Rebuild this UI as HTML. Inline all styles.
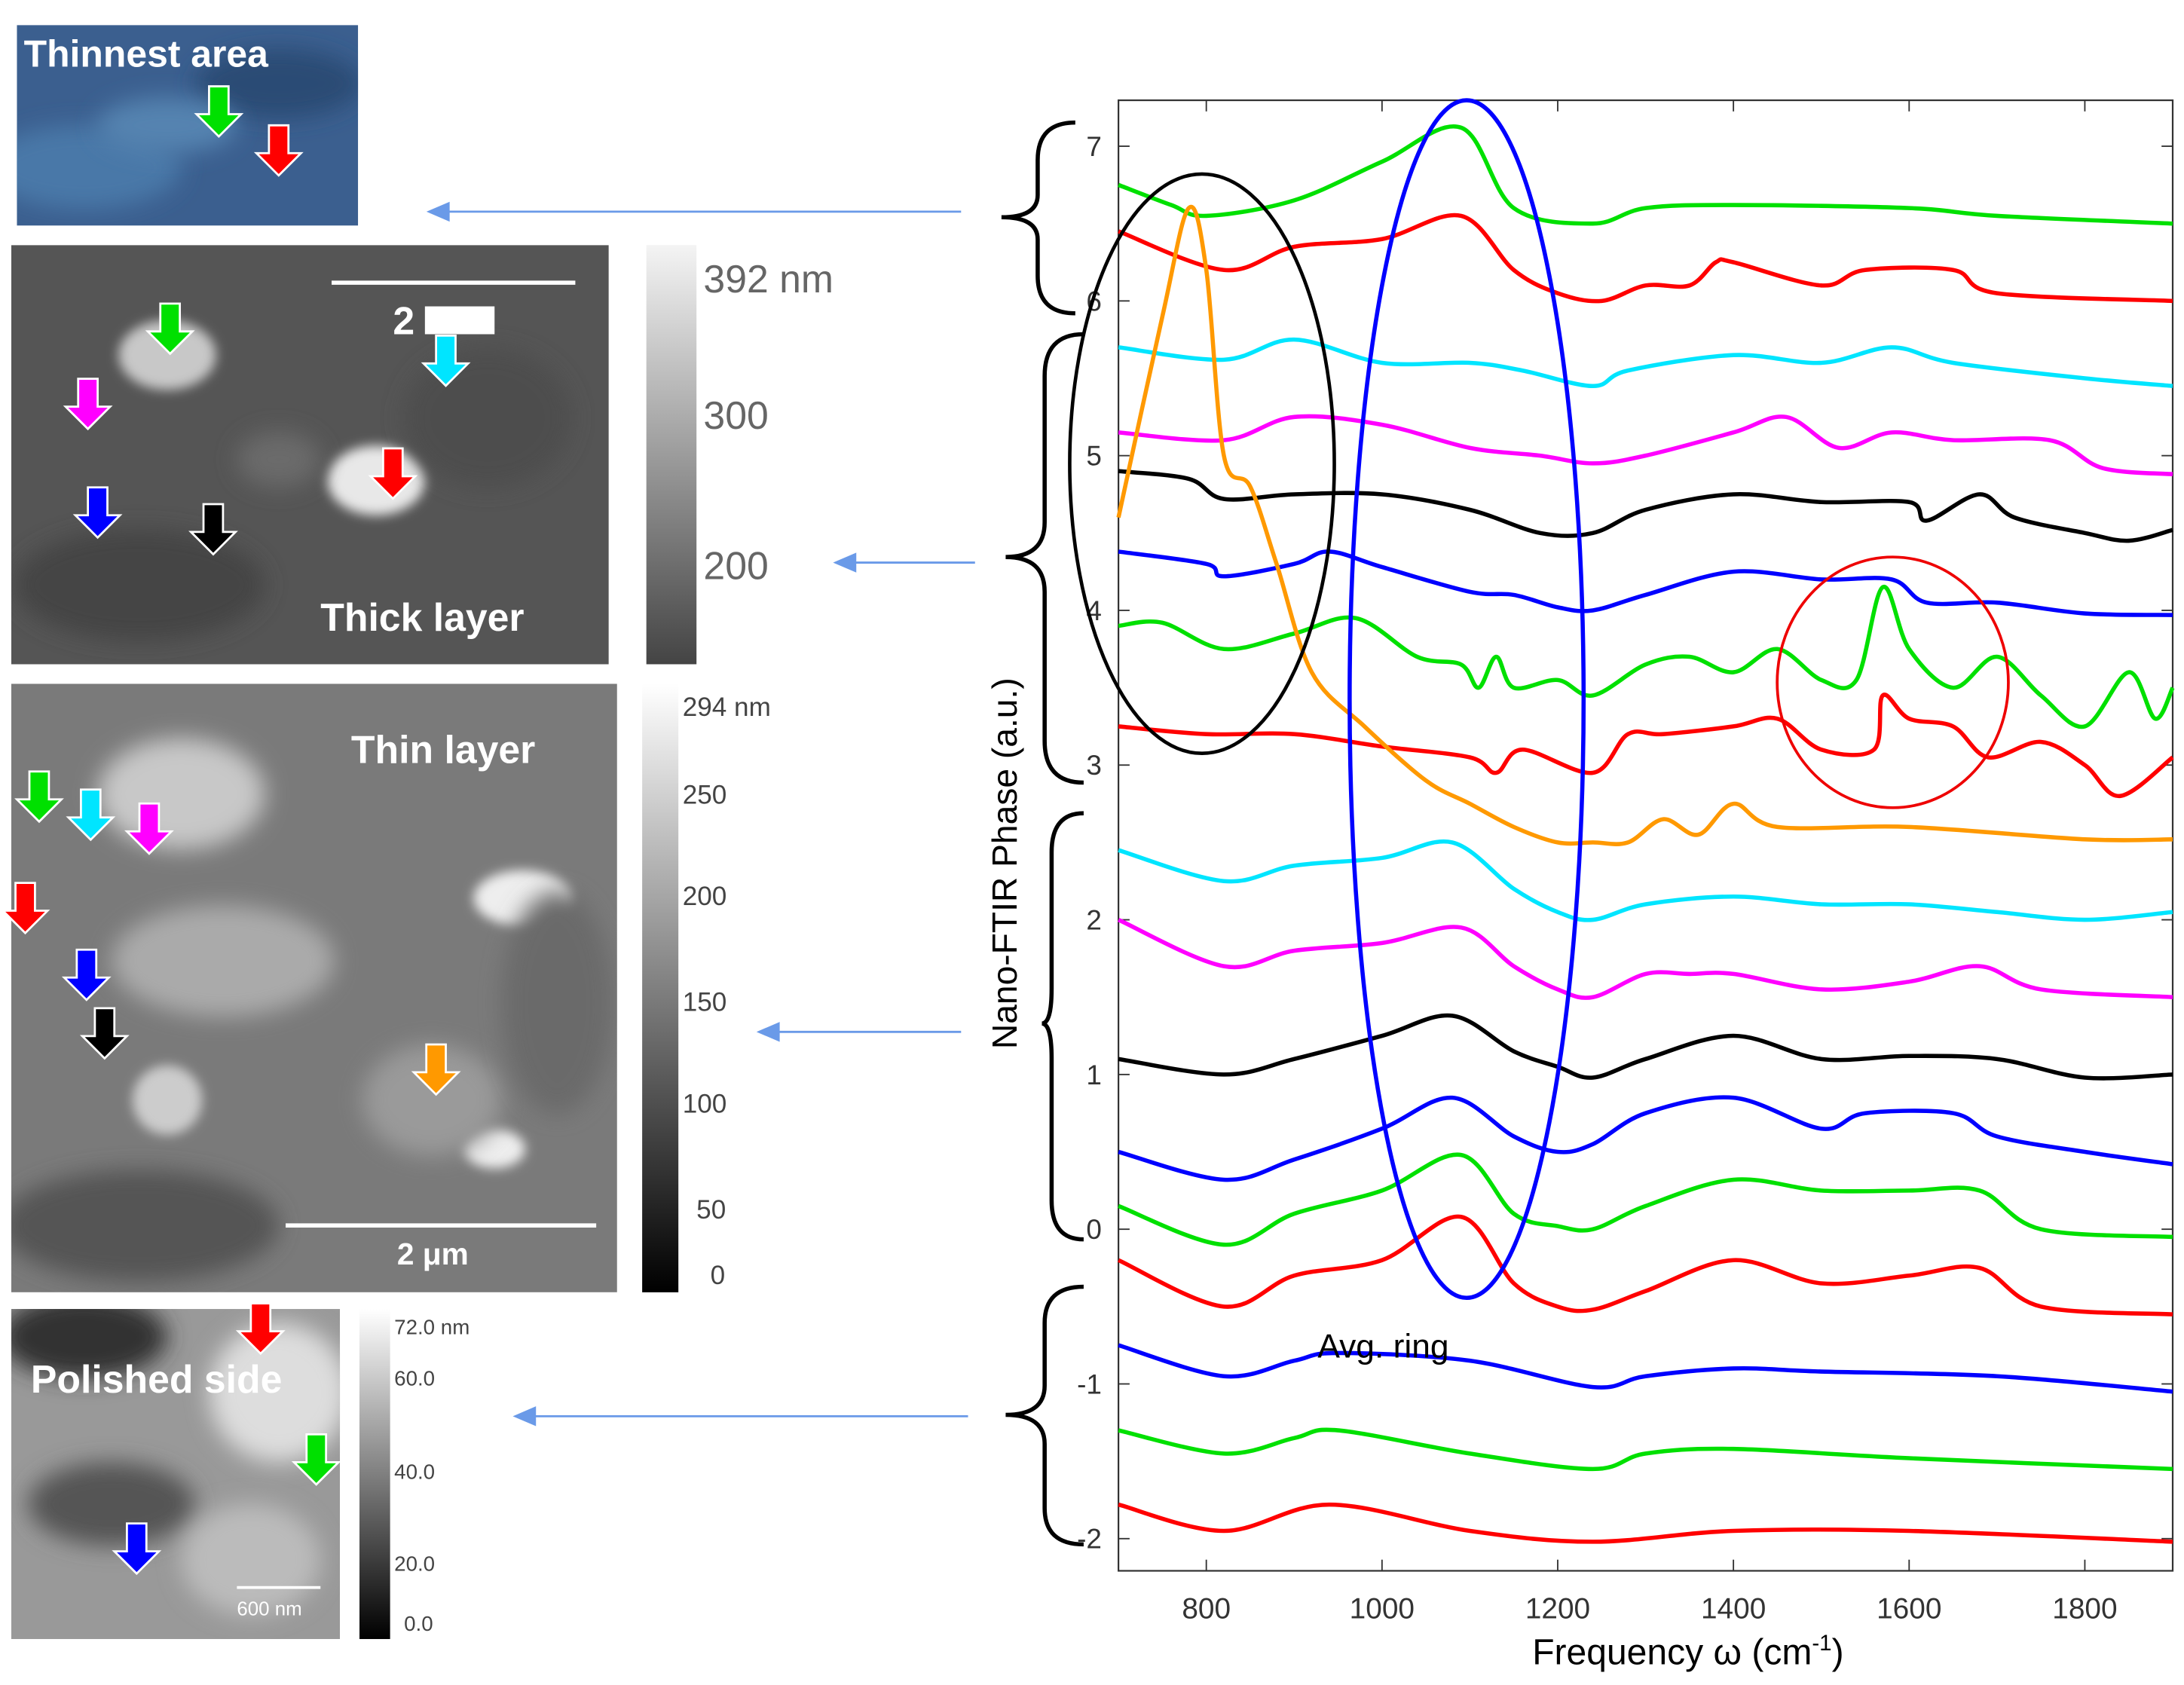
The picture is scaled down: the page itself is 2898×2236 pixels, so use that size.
<!DOCTYPE html>
<html><head><meta charset="utf-8"><style>
html,body{margin:0;padding:0;background:#fff;}
svg{display:block;}
text{font-family:"Liberation Sans",sans-serif;}
</style></head><body>
<svg id="fig" width="2898" height="2236" viewBox="0 0 1568 1210" xmlns="http://www.w3.org/2000/svg">
<defs>
<linearGradient id="cb" x1="0" y1="0" x2="0" y2="1"><stop offset="0" stop-color="#fff"/><stop offset="1" stop-color="#000"/></linearGradient>
<linearGradient id="cb2" x1="0" y1="0" x2="0" y2="1"><stop offset="0" stop-color="#f4f4f4"/><stop offset="1" stop-color="#444"/></linearGradient>
<filter id="bl" x="-50%" y="-50%" width="200%" height="200%"><feGaussianBlur stdDeviation="8"/></filter>
<filter id="bl2" x="-50%" y="-50%" width="200%" height="200%"><feGaussianBlur stdDeviation="4"/></filter>
<clipPath id="c1"><rect x="12" y="18" width="245" height="144"/></clipPath>
<clipPath id="c2"><rect x="8" y="176" width="429" height="301"/></clipPath>
<clipPath id="c3"><rect x="8" y="491" width="435" height="437"/></clipPath>
<clipPath id="c4"><rect x="8" y="940" width="236" height="237"/></clipPath>
</defs>

<g clip-path="url(#c1)">
<rect x="12" y="18" width="245" height="144" fill="#3b5f8f"/>
<ellipse cx="60" cy="120" rx="70" ry="30" fill="#4a78a8" filter="url(#bl)"/>
<ellipse cx="200" cy="60" rx="60" ry="25" fill="#2c4b75" filter="url(#bl)"/>
<ellipse cx="120" cy="90" rx="50" ry="20" fill="#5583b0" filter="url(#bl)"/>
</g>
<text x="17" y="48" font-size="27" font-weight="bold" fill="#fff">Thinnest area</text>

<g clip-path="url(#c2)">
<rect x="8" y="176" width="429" height="301" fill="#555"/>
<ellipse cx="120" cy="255" rx="35" ry="25" fill="#c8c8c8" filter="url(#bl2)"/>
<ellipse cx="270" cy="345" rx="35" ry="25" fill="#e8e8e8" filter="url(#bl2)"/>
<ellipse cx="100" cy="420" rx="90" ry="40" fill="#444" filter="url(#bl)"/>
<ellipse cx="350" cy="300" rx="60" ry="50" fill="#4d4d4d" filter="url(#bl)"/>
<ellipse cx="200" cy="330" rx="30" ry="20" fill="#6a6a6a" filter="url(#bl)"/>
<line x1="238" y1="203" x2="413" y2="203" stroke="#fff" stroke-width="3"/>
<text x="282" y="240" font-size="28" font-weight="bold" fill="#fff">2</text>
<rect x="305" y="220" width="50" height="20" fill="#fff"/>
</g>
<text x="230" y="453" font-size="28" font-weight="bold" fill="#fff">Thick layer</text>
<rect x="464" y="176" width="36" height="301" fill="url(#cb2)"/>
<g font-size="28" fill="#666">
<text x="505" y="210">392 nm</text><text x="505" y="308">300</text><text x="505" y="416">200</text></g>

<g clip-path="url(#c3)">
<rect x="8" y="491" width="435" height="437" fill="#7a7a7a"/>
<ellipse cx="130" cy="570" rx="60" ry="40" fill="#c8c8c8" filter="url(#bl)"/>
<ellipse cx="160" cy="690" rx="80" ry="40" fill="#aaa" filter="url(#bl)"/>
<ellipse cx="375" cy="645" rx="35" ry="20" fill="#eee" filter="url(#bl2)"/>
<ellipse cx="355" cy="825" rx="22" ry="14" fill="#eee" filter="url(#bl2)"/>
<ellipse cx="310" cy="790" rx="50" ry="40" fill="#9a9a9a" filter="url(#bl)"/>
<ellipse cx="120" cy="790" rx="25" ry="25" fill="#ccc" filter="url(#bl2)"/>
<ellipse cx="100" cy="880" rx="100" ry="40" fill="#555" filter="url(#bl)"/>
<ellipse cx="400" cy="720" rx="40" ry="80" fill="#6a6a6a" filter="url(#bl)"/>
<line x1="205" y1="880" x2="428" y2="880" stroke="#fff" stroke-width="3"/>
<text x="285" y="908" font-size="22" font-weight="bold" fill="#fff">2 μm</text>
</g>
<text x="252" y="548" font-size="28" font-weight="bold" fill="#fff">Thin layer</text>
<rect x="461" y="491" width="26" height="437" fill="url(#cb)"/>
<g font-size="19" fill="#444">
<text x="490" y="514">294 nm</text><text x="490" y="577">250</text><text x="490" y="650">200</text><text x="490" y="726">150</text><text x="490" y="799">100</text><text x="500" y="875">50</text><text x="510" y="922">0</text></g>

<g clip-path="url(#c4)">
<rect x="8" y="940" width="236" height="237" fill="#999"/>
<ellipse cx="60" cy="960" rx="60" ry="30" fill="#333" filter="url(#bl)"/>
<ellipse cx="200" cy="1000" rx="50" ry="50" fill="#ddd" filter="url(#bl)"/>
<ellipse cx="80" cy="1080" rx="60" ry="30" fill="#555" filter="url(#bl)"/>
<ellipse cx="180" cy="1120" rx="50" ry="40" fill="#bbb" filter="url(#bl)"/>
<line x1="170" y1="1140" x2="230" y2="1140" stroke="#fff" stroke-width="2"/>
<text x="170" y="1160" font-size="14" fill="#fff">600 nm</text>
</g>
<text x="22" y="1000" font-size="28" font-weight="bold" fill="#fff">Polished side</text>
<rect x="258" y="940" width="22" height="237" fill="url(#cb)"/>
<g font-size="15" fill="#444">
<text x="283" y="958">72.0 nm</text><text x="283" y="995">60.0</text><text x="283" y="1062">40.0</text><text x="283" y="1128">20.0</text><text x="290" y="1171">0.0</text></g>

<g stroke="#6a9ae8" stroke-width="1.5" fill="#6a9ae8">
<line x1="690" y1="152" x2="315" y2="152"/><polygon points="308,152 322,146 322,158"/>
<line x1="700" y1="404" x2="607" y2="404"/><polygon points="600,404 614,398 614,410"/>
<line x1="690" y1="741" x2="552" y2="741"/><polygon points="545,741 559,735 559,747"/>
<line x1="695" y1="1017" x2="377" y2="1017"/><polygon points="370,1017 384,1011 384,1023"/>
</g>

<g fill="none" stroke="#000" stroke-width="3">
<path d="M772,88 Q745,88 745,115 L745,140 Q745,156 719,156 Q745,156 745,172 L745,198 Q745,225 772,225"/>
<path d="M778,240 Q750,240 750,270 L750,375 Q750,400 722,400 Q750,400 750,425 L750,532 Q750,562 778,562"/>
<path d="M778,584 Q755,584 755,612 L755,710 Q755,735 748,735 Q755,735 755,760 L755,862 Q755,890 778,890"/>
<path d="M778,924 Q750,924 750,950 L750,995 Q750,1016 722,1016 Q750,1016 750,1037 L750,1083 Q750,1109 778,1109"/>
</g>

<g id="chart"></g>
</svg>
<script>
const xTicks=[800,1000,1200,1400,1600,1800];
const yTicks=[7,6,5,4,3,2,1,0,-1,-2];
const f1=[700,760,800,900,1000,1090,1150,1240,1300,1400,1600,1700,1900];
const v1=[6.75,6.62,6.55,6.65,6.9,7.12,6.6,6.5,6.6,6.62,6.6,6.55,6.5];
const f2=[700,820,900,1000,1090,1150,1200,1250,1300,1350,1380,1400,1500,1550,1650,1700,1900];
const v2=[6.45,6.2,6.35,6.4,6.55,6.2,6.05,6.0,6.1,6.1,6.25,6.25,6.1,6.2,6.2,6.05,6.0];
const f3=[700,820,900,1000,1100,1160,1240,1280,1400,1500,1580,1650,1800,1900];
const v3=[5.7,5.62,5.75,5.6,5.6,5.55,5.45,5.55,5.65,5.6,5.7,5.6,5.5,5.45];
const f4=[700,820,900,1000,1100,1180,1240,1300,1400,1460,1520,1580,1650,1760,1820,1900];
const v4=[5.15,5.1,5.25,5.2,5.05,5.0,4.95,5.0,5.15,5.25,5.05,5.15,5.1,5.1,4.92,4.88];
const f5=[700,780,820,900,1000,1100,1180,1240,1300,1400,1500,1600,1620,1680,1720,1800,1850,1900];
const v5=[4.9,4.85,4.72,4.75,4.75,4.65,4.5,4.5,4.65,4.75,4.7,4.7,4.58,4.75,4.6,4.5,4.45,4.52];
const f6=[700,800,820,900,940,1000,1100,1150,1200,1240,1300,1400,1500,1580,1620,1700,1800,1900];
const v6=[4.38,4.3,4.22,4.3,4.38,4.28,4.12,4.1,4.02,4.0,4.1,4.25,4.2,4.2,4.05,4.05,3.98,3.97];
const f7=[700,750,820,900,970,1040,1090,1110,1130,1150,1200,1240,1300,1350,1400,1450,1500,1540,1570,1600,1650,1700,1750,1800,1850,1880,1900];
const v7=[3.9,3.92,3.75,3.85,3.95,3.7,3.65,3.5,3.7,3.5,3.55,3.45,3.65,3.7,3.6,3.75,3.55,3.55,4.15,3.75,3.5,3.7,3.45,3.25,3.6,3.3,3.5];
const f8=[700,800,900,1000,1100,1130,1160,1240,1280,1320,1400,1450,1500,1560,1570,1600,1650,1690,1750,1800,1840,1900];
const v8=[3.25,3.2,3.2,3.12,3.05,2.95,3.1,2.95,3.2,3.2,3.25,3.3,3.1,3.1,3.45,3.3,3.25,3.05,3.15,3.0,2.8,3.05];
const f9=[700,750,780,800,820,850,880,920,980,1050,1100,1150,1200,1240,1280,1320,1360,1400,1450,1600,1800,1900];
const v9=[4.6,5.9,6.6,6.2,5.0,4.8,4.3,3.6,3.25,2.9,2.75,2.6,2.5,2.5,2.5,2.65,2.55,2.75,2.6,2.6,2.52,2.52];
const f10=[700,820,900,1000,1080,1150,1200,1240,1300,1400,1500,1600,1700,1800,1900];
const v10=[2.45,2.25,2.35,2.4,2.5,2.2,2.05,2.0,2.1,2.15,2.1,2.1,2.05,2.0,2.05];
const f11=[700,820,900,1000,1090,1150,1200,1240,1300,1350,1400,1500,1600,1680,1750,1900];
const v11=[2.0,1.7,1.8,1.85,1.95,1.7,1.55,1.5,1.65,1.65,1.65,1.55,1.6,1.7,1.55,1.5];
const f12=[700,820,900,1000,1080,1150,1200,1240,1300,1400,1500,1600,1700,1800,1900];
const v12=[1.1,1.0,1.1,1.25,1.38,1.15,1.05,0.98,1.1,1.25,1.1,1.12,1.1,0.98,1.0];
const f13=[700,820,900,1000,1080,1150,1200,1240,1300,1400,1500,1550,1650,1700,1800,1900];
const v13=[0.5,0.32,0.45,0.65,0.85,0.6,0.5,0.55,0.75,0.85,0.65,0.75,0.75,0.6,0.5,0.42];
const f14=[700,820,900,1000,1090,1150,1200,1240,1300,1400,1500,1600,1680,1750,1900];
const v14=[0.15,-0.1,0.1,0.25,0.48,0.1,0.02,0.0,0.15,0.32,0.25,0.25,0.25,0.0,-0.05];
const f15=[700,820,900,1000,1090,1150,1200,1240,1300,1400,1500,1600,1680,1750,1900];
const v15=[-0.2,-0.5,-0.3,-0.2,0.08,-0.35,-0.5,-0.52,-0.4,-0.2,-0.35,-0.3,-0.25,-0.5,-0.55];
const f16=[700,820,900,950,1100,1240,1300,1400,1500,1700,1900];
const v16=[-0.75,-0.95,-0.85,-0.8,-0.85,-1.02,-0.95,-0.9,-0.92,-0.95,-1.05];
const f17=[700,820,900,950,1100,1240,1300,1400,1600,1900];
const v17=[-1.3,-1.45,-1.35,-1.3,-1.45,-1.55,-1.45,-1.42,-1.48,-1.55];
const f18=[700,820,940,1100,1240,1400,1600,1900];
const v18=[-1.78,-1.95,-1.78,-1.95,-2.02,-1.95,-1.95,-2.02];
const series=[[f1,v1,'#00e000'],[f2,v2,'#ff0000'],[f3,v3,'#00e5ff'],[f4,v4,'#ff00ff'],[f5,v5,'#000000'],[f6,v6,'#0000ff'],[f7,v7,'#00e000'],[f8,v8,'#ff0000'],[f9,v9,'#ff9900'],[f10,v10,'#00e5ff'],[f11,v11,'#ff00ff'],[f12,v12,'#000000'],[f13,v13,'#0000ff'],[f14,v14,'#00e000'],[f15,v15,'#ff0000'],[f16,v16,'#0000ff'],[f17,v17,'#00e000'],[f18,v18,'#ff0000']];

const L=803,R=1560,T=72,B=1128;
const X=f=>L+(f-700)*(R-L)/1200;
const Y=v=>105+(7-v)*111.1;
const NS='http://www.w3.org/2000/svg';
const g=document.getElementById('chart');
function mk(t,a,p){const e=document.createElementNS(NS,t);for(const k in a)e.setAttribute(k,a[k]);(p||g).appendChild(e);return e;}

const frame=mk('rect',{x:L,y:T,width:R-L,height:B-T,fill:'none',stroke:'#333','stroke-width':1.2});


xTicks.forEach(t=>{
  mk('line',{x1:X(t),x2:X(t),y1:B,y2:B-8,stroke:'#333'});
  mk('line',{x1:X(t),x2:X(t),y1:T,y2:T+8,stroke:'#333'});
  const tx=mk('text',{x:X(t),y:B+34,'font-size':21,'text-anchor':'middle',fill:'#333'});
  tx.textContent=t;
  
  
});
yTicks.forEach(t=>{
  mk('line',{x1:L,x2:L+8,y1:Y(t),y2:Y(t),stroke:'#333'});
  mk('line',{x1:R,x2:R-8,y1:Y(t),y2:Y(t),stroke:'#333'});
  const tx=mk('text',{x:791,y:Y(t)+7,'font-size':20,'text-anchor':'end',fill:'#333'});
  tx.textContent=t;
  
  
});
function path(fs,vs){
  const p=fs.map((f,i)=>[X(f),Y(vs[i])]);
  let d='M'+p[0][0]+','+p[0][1];
  for(let i=0;i<p.length-1;i++){
    const p0=p[Math.max(0,i-1)],p1=p[i],p2=p[i+1],p3=p[Math.min(p.length-1,i+2)];
    const c1x=p1[0]+(p2[0]-p0[0])/6,c1y=p1[1]+(p2[1]-p0[1])/6;
    const c2x=p2[0]-(p3[0]-p1[0])/6,c2y=p2[1]-(p3[1]-p1[1])/6;
    d+=' C'+c1x+','+c1y+' '+c2x+','+c2y+' '+p2[0]+','+p2[1];
  }
  return d;
}
series.forEach((s,i)=>{
  const e=mk('path',{d:path(s[0],s[1]),fill:'none',stroke:s[2],'stroke-width':3,'stroke-linejoin':'round'});
  
  
});
const e1=mk('ellipse',{cx:863,cy:333,rx:95,ry:208,fill:'none',stroke:'#000','stroke-width':2.5});


const e2=mk('ellipse',{cx:1053,cy:502,rx:84,ry:430,fill:'none',stroke:'#0000ff','stroke-width':3});


const e3=mk('ellipse',{cx:1359,cy:490,rx:83,ry:90,fill:'none',stroke:'#e00','stroke-width':2});


const ar=mk('text',{x:946,y:975,'font-size':24,fill:'#000'});
ar.textContent='Avg. ring';


const xt=mk('text',{x:1212,y:1195,'font-size':26,'text-anchor':'middle',fill:'#000'});
xt.innerHTML='Frequency ω (cm<tspan dy="-10" font-size="16">-1</tspan><tspan dy="10">)</tspan>';


const yt=mk('text',{x:0,y:0,'font-size':25,'text-anchor':'middle',fill:'#000',transform:'translate(730,620) rotate(-90)'});
yt.textContent='Nano-FTIR Phase (a.u.)';



const svg=document.getElementById('fig');
const arrows=[[157,62,'#00e000'],[200,90,'#ff0000'],[122,218,'#00e000'],[320,241,'#00e5ff'],[63,272,'#ff00ff'],[282,322,'#ff0000'],[70,350,'#0000ff'],[153,362,'#000000'],[28,554,'#00e000'],[65,567,'#00e5ff'],[107,577,'#ff00ff'],[18,634,'#ff0000'],[62,682,'#0000ff'],[75,724,'#000000'],[313,750,'#ff9900'],[187,936,'#ff0000'],[227,1030,'#00e000'],[98,1094,'#0000ff']];
arrows.forEach(a=>{
  const [cx,ty,c]=a;
  const pts=[[cx-7,ty],[cx+7,ty],[cx+7,ty+20],[cx+16,ty+20],[cx,ty+36],[cx-16,ty+20],[cx-7,ty+20]].map(p=>p.join(',')).join(' ');
  const e=mk('polygon',{points:pts,fill:c,stroke:'#fff','stroke-width':1.5},svg);
  
  
});
</script>
</body></html>
